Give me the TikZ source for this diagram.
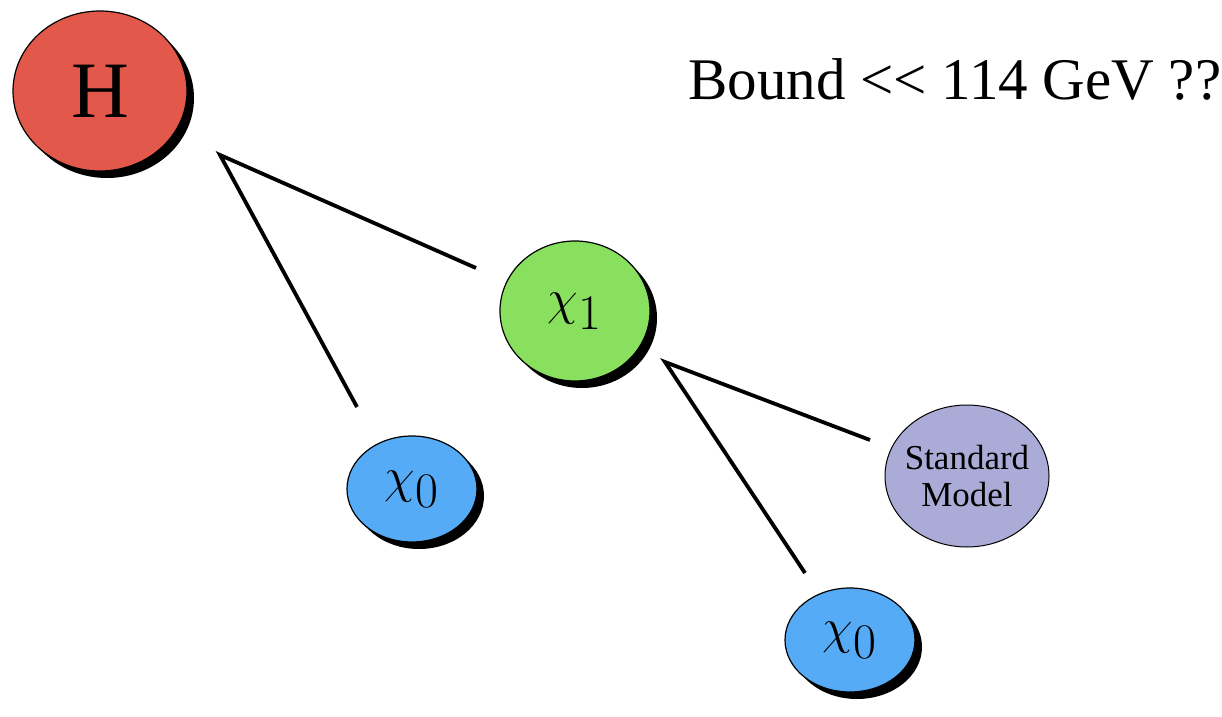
\documentclass[tikz,border=0pt]{standalone}
\usepackage{fontspec}
\setmainfont{Liberation Serif}
\usetikzlibrary{shapes.geometric,shadows}
\definecolor{hred}{HTML}{E2594B}
\definecolor{cgreen}{HTML}{88E05E}
\definecolor{cblue}{HTML}{56ABF7}
\definecolor{smlav}{HTML}{AAACD7}
\tikzset{
  particle/.style={ellipse, draw=black, line width=0.6pt, inner sep=0pt,
    general shadow={fill=black, shadow xshift=3.5pt, shadow yshift=-3.5pt}},
  plainparticle/.style={ellipse, draw=black, line width=0.5pt, inner sep=-6pt},
  link/.style={line width=1.9pt, black},
  lbl/.style={font=\fontsize{40}{44}\selectfont}
}
\begin{document}
\begin{tikzpicture}[x=0.5pt,y=-0.5pt]
\useasboundingbox (0,0) rectangle (1222,717);
\node[particle, fill=hred, minimum width=87pt, minimum height=80pt, lbl] (H) at (100,91) {H};
\node[particle, fill=cgreen, minimum width=75pt, minimum height=70pt] (chi1) at (575,311) {\fontsize{44}{48}\selectfont$\chi_1$};
\node[particle, fill=cblue, minimum width=65pt, minimum height=53pt] (chi0a) at (412,489) {\fontsize{40}{44}\selectfont$\chi_0$};
\node[particle, fill=cblue, minimum width=65pt, minimum height=52pt] (chi0b) at (850,640) {\fontsize{40}{44}\selectfont$\chi_0$};
\node[plainparticle, fill=smlav, minimum width=82pt, minimum height=71pt, align=center, font=\fontsize{17.5}{18.5}\selectfont] (SM) at (967,476) {Standard\\Model};
\coordinate (hv) at (220,155);
\coordinate (h1) at (476,268);
\coordinate (h2) at (357,407);
\coordinate (cv) at (665,362);
\coordinate (c1) at (870,440);
\coordinate (c2) at (805,573);
\draw[link] (h1) -- (hv) -- (h2);
\draw[link] (c1) -- (cv) -- (c2);
\node[anchor=base west, inner sep=0pt, font=\fontsize{29.5}{32}\selectfont] (bound) at (688,100) {Bound {<}{<} 114 GeV ??};
\end{tikzpicture}
\end{document}
